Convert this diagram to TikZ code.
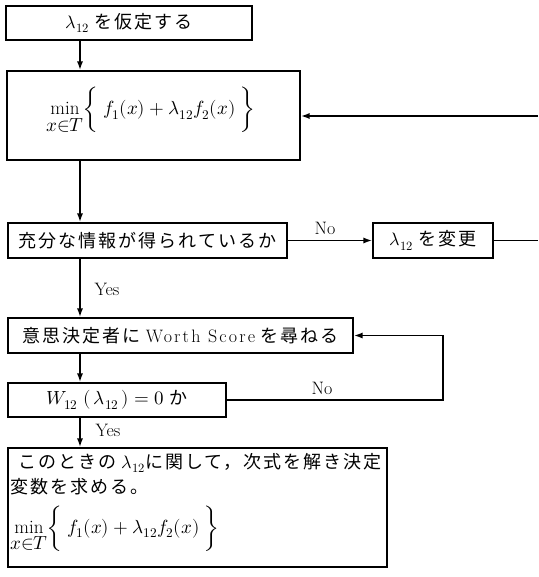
\documentclass[tikz,border=0pt]{standalone}
\usepackage{fontspec}
\usepackage{unicode-math}
\setmathfont{Latin Modern Math}
\newfontfamily\jp{Noto Sans CJK JP}[LetterSpace=11]
\newfontfamily\latsp{Latin Modern Roman}[LetterSpace=12]
\usetikzlibrary{arrows.meta}
\newcommand\fs{\fontsize{18}{21}\selectfont}
\newcommand\fm{\fontsize{19}{23}\selectfont}
\newcommand\mfor{\ensuremath{\displaystyle \min\limits_{\textstyle x{\in}T}\biggl\{\; f_1(x)+\lambda_{12}f_2(x)\;\biggr\}}}
\tikzset{
  box/.style={draw, line width=1.1pt, inner sep=0pt, font=\fs},
  conn/.style={line width=1.8pt},
  arr/.style={conn, -{Latex[length=9pt,width=6pt]}},
  lbl/.style={font=\fs, inner sep=0pt},
  mlbl/.style={font=\fm, inner sep=0pt},
}
\begin{document}
\begin{tikzpicture}[x=1pt,y=-1pt]
\useasboundingbox (0,0) rectangle (538,577);
\coordinate (trunk) at (80,0);
\coordinate (loopx) at (443,0);
\coordinate (edgeA) at (538,116);
\coordinate (edgeB) at (538,240.5);

\node[box, minimum width=246pt, minimum height=34pt] (b1) at (129,23) {$\lambda_{12}$ {\jp を仮定する}};
\node[box, minimum width=293pt, minimum height=89pt] (b2) at (153.5,115.5) {};
\node[mlbl, anchor=base west] (f1) at (46,115) {\mfor};
\node[box, minimum width=279pt, minimum height=35pt] (b3) at (147.5,240.5) {\jp 充分な情報が得られているか};
\node[box, minimum width=120pt, minimum height=35pt] (b4) at (433,240.5) {$\lambda_{12}$ {\jp を変更}};
\node[box, minimum width=345pt, minimum height=35pt] (b5) at (180.5,335.5) {{\jp 意思決定者に} {\latsp Worth Score} {\jp を尋ねる}};
\node[box, minimum width=218pt, minimum height=34pt] (b6) at (117,400) {{\fm$W_{12}\;(\,\lambda_{12}\,) = 0$} {\jp か}};
\node[box, minimum width=379pt, minimum height=119pt] (b7) at (197.5,507.5) {};
\node[lbl, anchor=base west] (t1) at (18,468.5) {{\jp このときの} $\lambda_{12}${\jp に関して，次式を解き決定}};
\node[lbl, anchor=base west] (t2) at (10,493) {\jp 変数を求める。};
\node[mlbl, anchor=base west] (f2) at (10,533) {\mfor};

\node[lbl] (no1) at (325,228) {No};
\node[lbl] (yes1) at (107,289) {Yes};
\node[lbl] (no2) at (322,388) {No};
\node[lbl] (yes2) at (108,430) {Yes};

\draw[arr] (b1.south -| trunk) -- (b2.north -| trunk);
\draw[arr] (b2.south -| trunk) -- (b3.north -| trunk);
\draw[arr] (b3.south -| trunk) -- (b5.north -| trunk);
\draw[arr] (b5.south -| trunk) -- (b6.north -| trunk);
\draw[arr] (b6.south -| trunk) -- (b7.north -| trunk);
\draw[arr] (b3.east) -- (b4.west);
\draw[conn] (b4.east) -- (edgeB);
\draw[arr] (edgeA) -- (b2.east |- edgeA);
\draw[arr] (b6.east) -- (loopx |- b6.east) -- (loopx |- b5.east) -- (b5.east);
\end{tikzpicture}
\end{document}
